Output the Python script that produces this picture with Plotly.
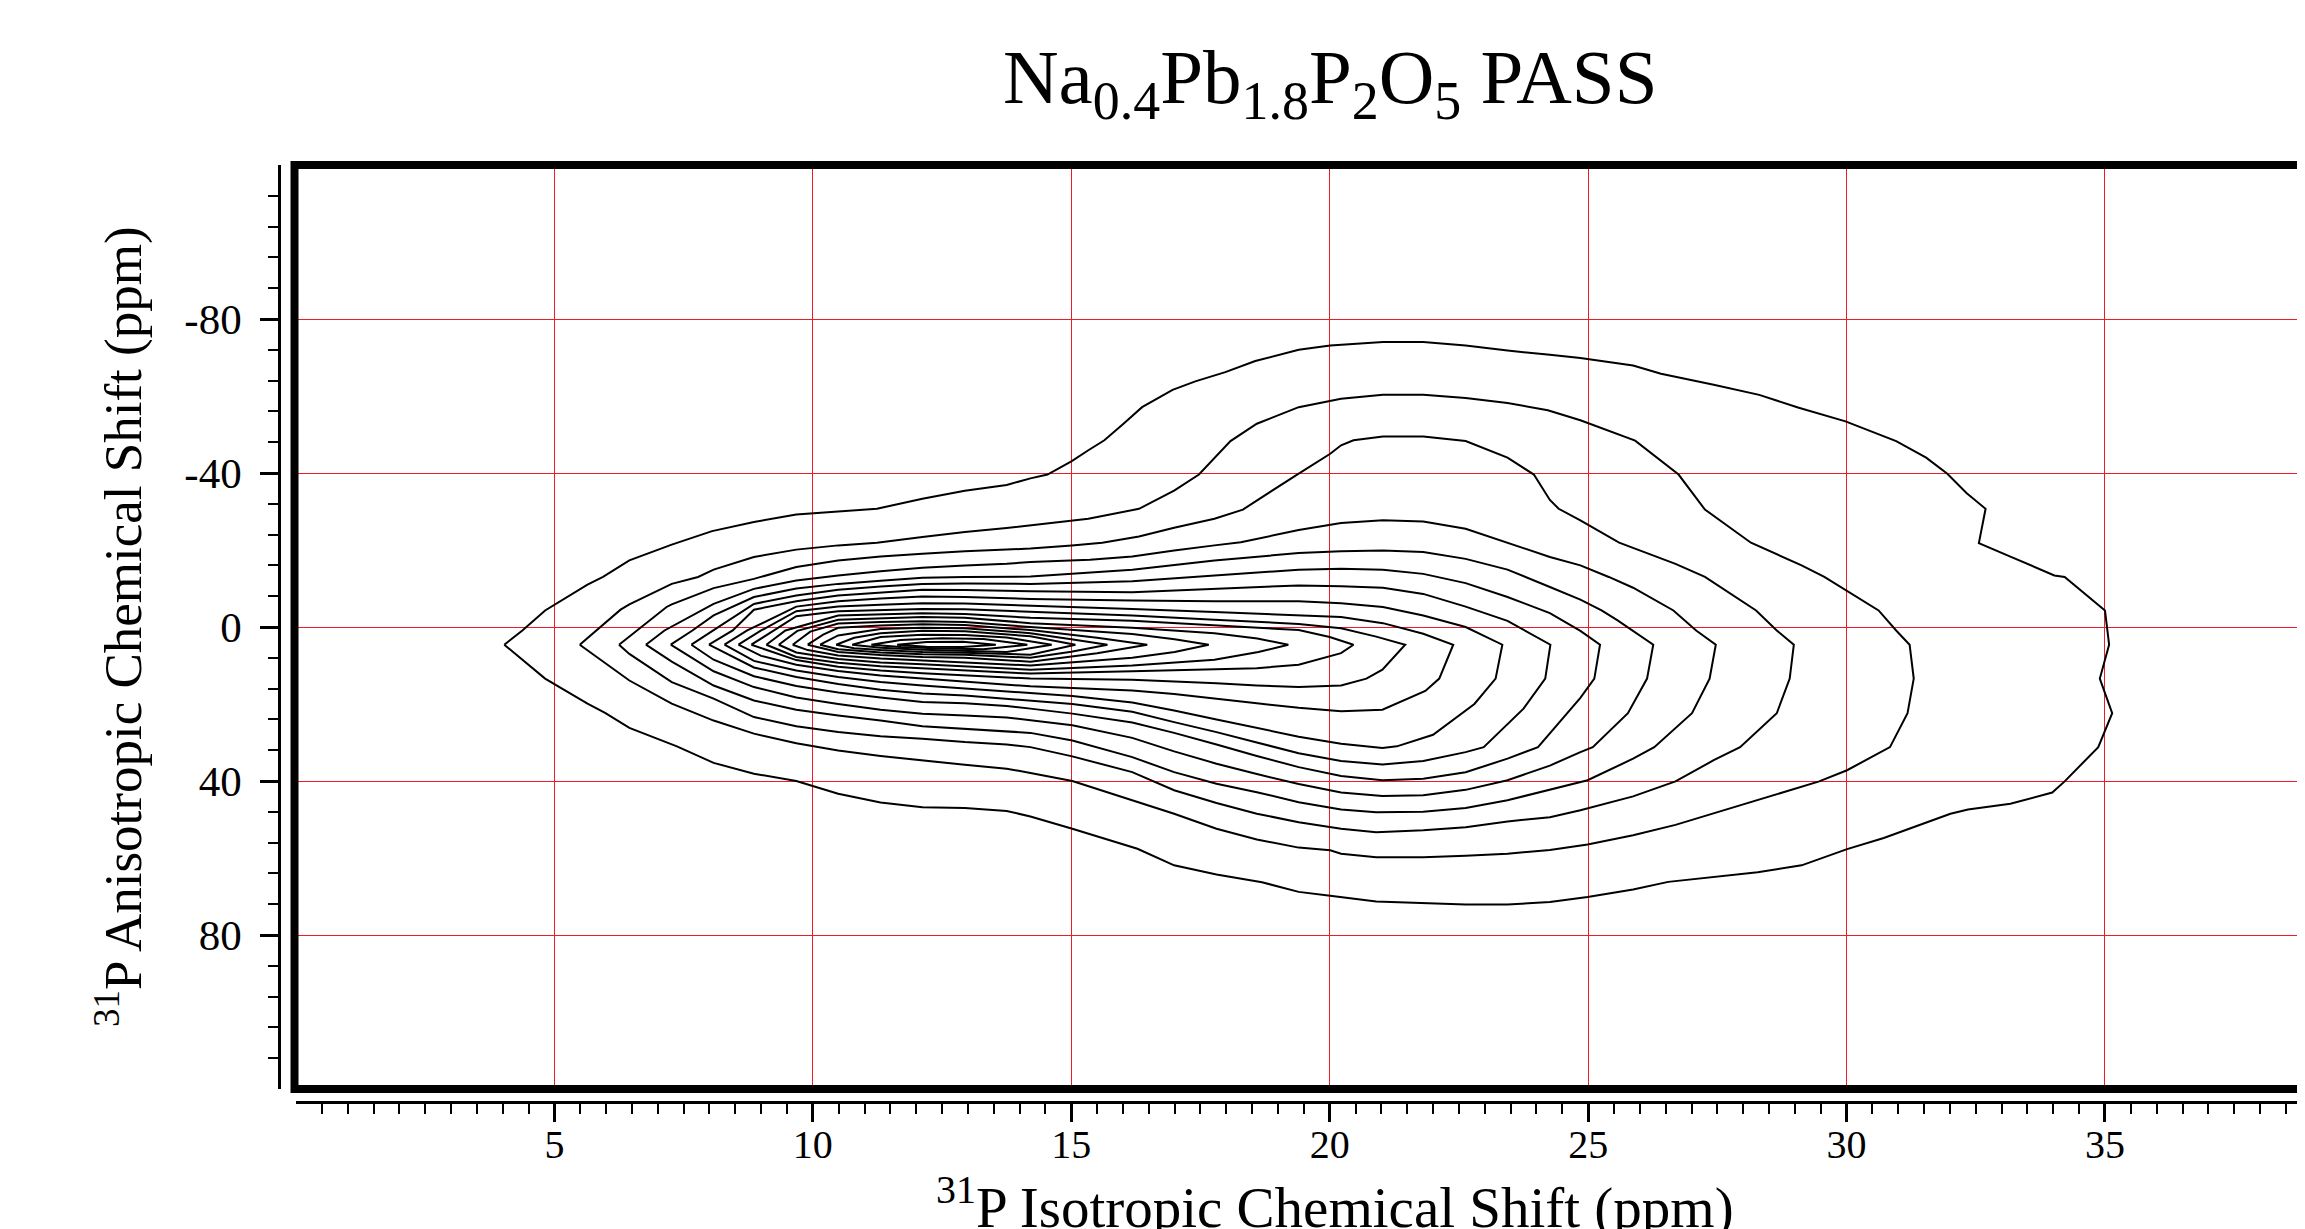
import plotly.graph_objects as go

# ---------------- data ----------------
TITLE = "Na<sub>0.4</sub>Pb<sub>1.8</sub>P<sub>2</sub>O<sub>5</sub> PASS"
X_TITLE = "<sup>31</sup>P Isotropic Chemical Shift (ppm)"
Y_TITLE = "<sup>31</sup>P Anisotropic Chemical Shift (ppm)"

x_ticks = [5, 10, 15, 20, 25, 30, 35]
y_ticks = [-80, -40, 0, 40, 80]
x_range = [0, 38.87]
y_range = [120, -120]

# contour lines (isotropic ppm, anisotropic ppm), outermost first
C01 = [(4.03,4.6),(4.38,0.9),(4.82,-4.3),(5.01,-5.9),(5.64,-11.0),(5.94,-13.0),(6.45,-17.3),(7.27,-21.4),(8.05,-24.9),
       (8.86,-27.3),(9.68,-29.2),(10.49,-30.0),(11.24,-30.7),(12.12,-33.3),(12.94,-35.4),(13.75,-36.9),(14.21,-38.6),
       (14.54,-39.6),(15.01,-43.1),(15.33,-45.9),(15.64,-48.5),(16.01,-52.8),(16.37,-57.1),(16.96,-61.6),(17.40,-63.8),
       (17.98,-66.2),(18.56,-69.1),(19.40,-72.0),(20.01,-73.1),(21.03,-74.0),(21.81,-74.0),(22.63,-73.1),(23.44,-71.8),
       (24.26,-70.7),(24.85,-69.9),(25.87,-67.9),(26.41,-65.8),(27.43,-62.9),(28.31,-60.3),(29.06,-57.0),(29.98,-53.4),
       (30.96,-48.3),(31.54,-44.0),(31.95,-39.8),(32.32,-34.8),(32.69,-30.7),(32.56,-21.8),(33.17,-18.3),(34.02,-13.4),
       (34.22,-13.0),(35.00,-4.3),(35.08,4.6),(34.90,13.4),(35.14,22.4),(34.87,31.2),(34.22,40.1),(33.98,43.0),
       (33.17,45.9),(32.35,47.4),(32.01,48.5),(30.72,54.8),(30.01,57.7),(29.13,61.9),(28.28,63.7),(26.55,66.2),
       (25.87,68.2),(24.99,70.1),(24.26,71.4),(23.44,72.1),(22.63,72.1),(21.81,71.7),(20.90,71.3),(20.01,69.8),
       (19.40,68.8),(18.69,66.3),(17.81,64.3),(16.99,61.9),(16.28,57.6),(15.02,52.4),(14.21,49.2),(13.75,47.8),
       (12.94,47.0),(12.12,46.8),(11.31,45.6),(10.49,43.3),(10.02,41.3),(9.68,40.0),(8.86,38.1),(8.08,35.3),
       (7.37,31.0),(6.45,26.2),(5.98,22.3),(5.64,19.9),(4.82,13.4),(4.03,4.6)]
C02 = [(5.49,4.6),(5.81,0.9),(6.28,-4.5),(6.45,-5.9),(7.27,-11.2),(7.78,-13.0),(8.08,-14.9),(8.86,-18.2),(9.68,-20.1),
       (10.49,-21.2),(11.24,-21.9),(12.12,-23.4),(12.94,-24.7),(13.75,-25.7),(14.21,-26.4),(15.01,-27.5),(15.33,-28.1),
       (16.31,-30.7),(16.99,-35.4),(17.47,-39.6),(18.08,-48.3),(18.59,-52.8),(19.40,-57.1),(20.22,-59.3),(21.03,-60.3),
       (21.81,-60.3),(22.63,-59.5),(23.44,-58.2),(24.22,-56.3),(24.85,-53.7),(25.91,-48.4),(26.75,-39.6),(27.26,-30.5),
       (28.15,-21.9),(29.13,-16.0),(29.57,-13.0),(30.01,-9.3),(30.62,-4.3),(30.96,0.9),(31.22,4.6),(31.30,13.4),
       (31.18,22.4),(30.84,31.2),(30.01,37.2),(29.47,40.1),(28.38,44.6),(27.43,48.5),(26.69,51.4),(25.87,54.1),
       (24.99,56.5),(24.26,57.9),(23.44,58.9),(22.63,59.4),(21.81,59.8),(20.90,59.8),(20.22,58.9),(20.01,58.0),
       (19.40,57.3),(18.59,55.2),(17.81,52.4),(16.99,48.5),(16.18,45.0),(15.02,40.0),(14.21,37.9),(13.75,36.8),
       (12.94,35.8),(12.12,34.7),(11.31,33.5),(10.49,32.1),(10.02,31.0),(9.68,30.2),(8.86,27.7),(8.08,24.3),
       (7.27,19.9),(6.45,13.9),(5.49,4.6)]
C03 = [(6.25,4.6),(6.59,0.9),(7.17,-5.2),(7.27,-5.9),(8.08,-10.1),(8.86,-12.5),(9.68,-15.6),(10.49,-17.3),(11.31,-18.3),
       (12.12,-19.0),(12.94,-19.7),(13.75,-20.1),(14.21,-20.4),(15.01,-21.2),(15.60,-21.9),(16.31,-23.5),(16.99,-25.8),
       (17.77,-28.1),(18.32,-30.5),(19.37,-39.6),(20.01,-45.0),(20.22,-47.2),(20.46,-48.5),(21.03,-49.5),(21.81,-49.5),
       (22.63,-48.3),(23.44,-44.0),(23.95,-39.6),(24.26,-33.0),(24.43,-30.7),(24.85,-27.7),(25.60,-21.9),(26.69,-16.4),
       (27.26,-13.0),(28.25,-4.3),(28.65,0.9),(28.98,4.6),(28.90,13.4),(28.65,22.4),(27.94,31.2),(27.43,34.6),
       (26.69,40.1),(25.87,44.0),(24.85,47.6),(24.26,49.4),(23.44,50.5),(22.63,52.0),(21.81,52.8),(20.90,53.3),
       (20.22,52.4),(19.40,50.7),(18.59,48.5),(17.81,45.7),(16.99,42.4),(16.18,37.7),(15.02,33.6),(14.21,31.2),
       (13.75,30.5),(12.94,29.9),(12.12,29.0),(11.31,28.4),(10.49,27.3),(9.68,25.8),(8.86,23.4),(8.08,18.6),
       (7.27,14.3),(6.45,7.0),(6.25,4.6)]
C04 = [(6.77,4.6),(7.13,0.9),(8.08,-6.0),(8.86,-9.9),(9.68,-12.1),(10.49,-13.4),(11.31,-14.5),(12.12,-15.4),(12.94,-16.0),
       (13.75,-16.4),(14.21,-16.9),(15.36,-17.5),(16.18,-18.3),(16.99,-19.9),(17.77,-21.2),(18.28,-22.0),(19.40,-25.2),
       (20.22,-27.0),(21.03,-27.7),(21.81,-27.4),(22.63,-25.5),(23.37,-22.1),(24.26,-18.2),(24.85,-16.0),(25.40,-13.0),
       (25.87,-10.2),(26.65,-4.3),(27.09,0.9),(27.47,4.6),(27.35,13.4),(27.01,22.4),(26.28,31.2),(25.87,34.2),
       (24.99,39.8),(24.26,42.3),(23.44,45.0),(22.63,47.0),(21.81,48.0),(20.90,48.1),(20.22,47.4),(19.40,45.5),
       (18.59,42.9),(17.81,40.7),(16.99,37.7),(16.18,33.8),(15.02,29.5),(14.21,27.5),(13.75,27.1),(12.94,26.4),
       (12.12,25.8),(11.31,24.3),(10.49,23.0),(9.68,21.5),(8.86,19.1),(8.08,15.2),(7.27,9.0),(6.77,4.6)]
C05 = [(7.25,4.6),(7.67,0.9),(8.08,-3.0),(8.86,-7.8),(9.68,-10.0),(10.49,-11.2),(11.31,-12.0),(12.12,-12.8),(12.94,-13.0),
       (13.75,-13.1),(14.21,-13.1),(16.18,-14.9),(17.77,-17.3),(19.40,-19.2),(20.22,-19.7),(21.03,-19.9),(21.81,-19.5),
       (22.63,-17.7),(23.44,-14.9),(24.26,-10.4),(24.85,-7.1),(25.26,-4.3),(25.57,-1.7),(26.26,4.6),(26.14,13.4),
       (25.77,22.4),(25.09,31.2),(24.85,32.5),(24.26,36.0),(23.44,39.8),(22.63,42.3),(21.81,43.7),(21.02,43.9),
       (20.22,43.0),(19.40,40.8),(18.59,38.2),(17.81,35.5),(16.99,32.3),(16.18,28.8),(15.02,25.5),(14.21,24.1),
       (13.75,23.5),(12.94,23.0),(12.12,22.5),(11.31,21.5),(10.49,20.0),(9.68,18.3),(8.86,15.6),(8.08,11.5),(7.25,4.6)]
C06 = [(7.65,4.6),(8.08,0.9),(8.86,-6.0),(9.68,-8.2),(10.49,-9.7),(11.31,-10.5),(12.12,-11.2),(12.94,-11.3),(13.75,-11.2),
       (14.21,-11.2),(16.18,-11.9),(17.77,-13.4),(19.40,-14.9),(20.22,-15.1),(21.03,-14.9),(21.81,-13.8),(22.63,-11.4),
       (23.44,-7.8),(24.26,-3.6),(24.85,1.0),(25.23,4.6),(25.12,13.4),(24.85,18.4),(24.03,31.2),(23.44,34.2),
       (22.63,37.7),(21.81,39.4),(21.02,39.8),(20.22,38.7),(19.40,36.4),(18.59,33.5),(17.81,30.5),(16.99,27.5),
       (16.18,24.8),(15.02,22.5),(14.21,21.2),(13.75,20.5),(12.94,19.8),(12.12,19.5),(11.31,18.3),(10.49,17.0),
       (9.68,15.3),(8.86,12.8),(8.08,8.5),(7.65,4.6)]
C07 = [(7.99,4.6),(8.45,0.9),(8.86,-4.5),(9.68,-6.7),(10.49,-8.2),(11.31,-9.0),(12.12,-9.7),(12.94,-9.6),(13.75,-9.4),
       (14.21,-9.3),(16.18,-9.0),(17.77,-9.9),(19.40,-10.8),(20.22,-10.6),(21.03,-10.2),(21.81,-8.6),(22.63,-5.3),
       (23.44,-1.6),(24.27,4.6),(24.17,13.4),(23.75,21.2),(22.98,31.2),(22.63,32.5),(21.81,34.8),(21.02,35.7),
       (20.22,34.8),(19.40,32.8),(18.59,30.0),(17.81,27.3),(16.99,24.7),(16.18,22.0),(15.02,20.0),(14.21,19.1),
       (12.94,17.8),(12.12,17.3),(11.31,16.3),(10.49,14.8),(9.68,13.0),(8.86,10.5),(7.99,4.6)]
C08 = [(8.29,4.6),(8.73,0.9),(9.68,-5.3),(10.49,-6.7),(11.31,-7.4),(12.12,-7.9),(12.94,-7.8),(14.21,-7.3),(16.18,-6.9),
       (17.77,-6.7),(19.40,-6.7),(20.22,-6.2),(21.03,-5.2),(21.81,-3.0),(22.63,0.0),(23.34,4.6),(23.21,13.4),
       (22.80,20.0),(22.00,28.0),(21.30,31.0),(21.02,31.4),(20.22,30.3),(19.40,28.5),(18.59,26.3),(17.81,24.0),
       (16.99,21.7),(16.18,19.6),(15.02,17.9),(14.21,17.2),(12.12,15.2),(11.31,14.3),(10.49,13.0),(9.68,11.3),
       (8.86,8.8),(8.29,4.6)]
C09 = [(8.56,4.6),(9.00,0.9),(9.68,-4.1),(10.49,-5.3),(11.31,-5.8),(12.12,-6.2),(12.94,-6.1),(14.21,-5.6),(16.18,-4.7),
       (17.77,-3.9),(19.40,-3.0),(20.22,-2.6),(21.03,-1.0),(21.81,1.75),(22.39,4.6),(22.12,13.4),(21.85,16.6),
       (21.02,21.5),(20.22,21.9),(19.40,21.0),(18.59,19.8),(17.81,18.6),(16.99,17.4),(16.18,16.5),(15.02,15.8),
       (14.21,15.4),(12.12,13.4),(11.31,12.6),(10.49,11.4),(9.68,9.8),(9.00,7.5),(8.56,4.6)]
C10 = [(8.81,4.6),(9.24,0.9),(9.68,-2.8),(10.49,-4.1),(11.31,-4.4),(12.12,-4.7),(12.94,-4.6),(14.21,-3.9),(16.18,-3.0),
       (17.77,-1.9),(19.40,-0.8),(20.22,0.3),(20.90,2.5),(21.46,4.6),(21.02,11.1),(20.71,13.4),(20.22,15.2),
       (19.40,15.6),(18.59,15.2),(17.81,14.6),(16.99,14.1),(16.18,13.7),(15.02,13.5),(14.21,13.4),(12.12,12.0),
       (11.31,11.3),(10.49,10.3),(9.68,8.6),(8.81,4.6)]
C11 = [(9.10,4.6),(9.47,0.9),(10.49,-3.0),(11.31,-3.3),(12.12,-3.6),(12.94,-3.4),(14.21,-2.4),(16.18,-1.6),(17.77,-0.4),
       (19.40,0.8),(20.00,2.6),(20.46,4.6),(20.22,6.8),(19.40,9.8),(18.59,10.7),(17.81,11.0),(16.18,11.5),
       (14.21,12.1),(12.12,10.8),(11.31,10.2),(10.49,9.3),(9.68,7.8),(9.10,4.6)]
C12 = [(9.34,4.6),(9.70,1.0),(10.49,-1.9),(11.31,-2.3),(12.12,-2.6),(12.94,-2.4),(14.21,-1.0),(16.18,0.2),(17.77,1.6),
       (18.60,3.0),(19.20,4.6),(18.62,6.5),(17.77,8.5),(16.18,10.0),(14.21,11.1),(12.12,9.7),(11.31,9.2),(10.49,8.3),
       (9.68,6.6),(9.34,4.6)]
C13 = [(9.61,4.6),(9.95,1.2),(10.49,-0.9),(11.31,-1.3),(12.12,-1.5),(12.94,-1.3),(14.21,0.0),(16.18,1.8),(17.00,3.2),
       (17.66,4.6),(17.00,6.5),(16.18,8.0),(14.21,10.0),(12.12,8.7),(11.31,8.2),(10.49,7.4),(9.90,6.0),(9.61,4.6)]
C14 = [(9.90,4.6),(10.20,2.0),(10.49,0.2),(11.31,-0.4),(12.12,-0.7),(12.94,-0.5),(14.21,0.8),(15.50,2.8),(16.47,4.6),
       (15.50,6.8),(14.21,9.0),(12.94,8.0),(12.12,7.8),(11.31,7.3),(10.49,6.5),(9.90,4.6)]
C15 = [(10.14,4.6),(10.49,2.2),(11.31,0.5),(12.12,0.2),(12.94,0.3),(14.21,1.6),(15.00,3.2),(15.70,4.6),(15.00,6.4),
       (14.21,8.0),(12.94,7.2),(12.12,7.1),(11.31,6.6),(10.49,5.8),(10.14,4.6)]
C16 = [(10.45,4.6),(10.80,2.8),(11.31,1.6),(12.12,1.0),(12.94,1.1),(14.21,2.4),(15.08,4.6),(14.21,7.2),(12.94,6.7),
       (12.12,6.5),(11.31,6.0),(10.80,5.5),(10.45,4.6)]
C17 = [(10.76,4.6),(11.31,2.6),(12.12,2.0),(12.94,2.1),(13.75,2.7),(14.62,4.6),(13.75,6.5),(12.94,6.2),(12.12,5.9),
       (11.31,5.4),(10.76,4.6)]
C18 = [(11.13,4.6),(11.70,3.4),(12.50,2.9),(13.30,3.1),(14.15,4.6),(13.30,5.8),(12.50,5.6),(11.70,5.2),(11.13,4.6)]
C19 = [(11.63,4.6),(12.20,3.9),(12.90,3.8),(13.54,4.6),(12.90,5.2),(12.20,5.1),(11.63,4.6)]

CONTOURS = [C01, C02, C03, C04, C05, C06, C07, C08, C09, C10,
            C11, C12, C13, C14, C15, C16, C17, C18, C19]

# minor tick positions
x_minor = [k / 2 for k in range(1, 78) if k % 10 != 0]
y_minor = [v for v in range(-112, 113, 8) if v % 40 != 0]

# ---------------- figure ----------------
SERIF = "Liberation Serif, Times New Roman, serif"
RED = "#ee1c24"

fig = go.Figure()
for c in CONTOURS:
    xs = [p[0] for p in c]
    ys = [p[1] for p in c]
    fig.add_trace(go.Scatter(x=xs, y=ys, mode="lines",
                             line=dict(color="black", width=2.0),
                             showlegend=False, hoverinfo="skip"))
# trace that carries the offset tick axes
fig.add_trace(go.Scatter(x=[None], y=[None], xaxis="x2", yaxis="y2",
                         showlegend=False, hoverinfo="skip"))

# the page body has an 8 px margin, so the figure is 8 px smaller than the window
W, H = 2297, 1221
ML, MR, MT, MB = 271, 0, 157, 127
pw = W - ML - MR
ph = H - MT - MB
dom_w = pw - 17
dom_h = ph - 13

fig.update_layout(
    width=W, height=H,
    margin=dict(l=ML, r=MR, t=MT, b=MB, pad=0, autoexpand=False),
    paper_bgcolor="white", plot_bgcolor="white",
    showlegend=False,
    xaxis=dict(domain=[17 / pw, 1], range=x_range, tickvals=x_ticks,
               showticklabels=False, ticks="", showgrid=True, automargin=False,
               gridcolor=RED, gridwidth=1.2, zeroline=False, showline=False),
    yaxis=dict(domain=[13 / ph, 1], range=y_range, tickvals=y_ticks,
               showticklabels=False, ticks="", showgrid=True, automargin=False,
               gridcolor=RED, gridwidth=1.2, zeroline=False, showline=False),
    xaxis2=dict(overlaying="x", anchor="free", position=0, range=x_range,
                tickvals=x_ticks, ticktext=[str(v) for v in x_ticks],
                ticks="outside", ticklen=18, tickwidth=2.5, tickcolor="black",
                showline=True, linecolor="black", linewidth=2.5, automargin=False,
                showgrid=False, zeroline=False, ticklabelstandoff=-12,
                tickfont=dict(family=SERIF, size=40, color="black"),
                minor=dict(tickvals=x_minor, ticks="outside", ticklen=10,
                           tickwidth=2, tickcolor="black", showgrid=False)),
    yaxis2=dict(overlaying="y", anchor="free", position=0, side="left",
                range=y_range, tickvals=y_ticks, automargin=False,
                ticktext=[str(v) for v in y_ticks],
                ticks="outside", ticklen=18, tickwidth=2.5, tickcolor="black",
                showline=True, linecolor="black", linewidth=2.5,
                showgrid=False, zeroline=False, ticklabelstandoff=10,
                tickfont=dict(family=SERIF, size=43, color="black"),
                minor=dict(tickvals=y_minor, ticks="outside", ticklen=10,
                           tickwidth=2, tickcolor="black", showgrid=False)),
)

# thick frame (left, top, bottom; the right side runs off the picture)
frame = dict(color="black", width=8)
ex = 4 / dom_w
ey = 4 / dom_h
fig.add_shape(type="line", xref="x domain", yref="y domain", x0=-ex, x1=1.01, y0=1, y1=1,
              line=frame, layer="above")
fig.add_shape(type="line", xref="x domain", yref="y domain", x0=-ex, x1=1.01, y0=0, y1=0,
              line=frame, layer="above")
fig.add_shape(type="line", xref="x domain", yref="y domain", x0=-1.5 / dom_w, x1=-1.5 / dom_w,
              y0=-ey, y1=1 + ey, line=frame, layer="above")

fig.add_annotation(text=TITLE, xref="x", yref="paper", x=20, y=(1094 - 74) / ph,
                   xanchor="center", yanchor="middle", showarrow=False,
                   font=dict(family=SERIF, size=77, color="black"))
fig.add_annotation(text=X_TITLE, xref="x", yref="paper", x=20.1, y=(1094 - 1195) / ph,
                   xanchor="center", yanchor="middle", showarrow=False,
                   font=dict(family=SERIF, size=57, color="black"))
fig.add_annotation(text=Y_TITLE, xref="paper", yref="y", x=(111 - ML) / pw, y=0,
                   xanchor="center", yanchor="middle", showarrow=False, textangle=-90,
                   font=dict(family=SERIF, size=53, color="black"))

fig.write_html("out.html")
